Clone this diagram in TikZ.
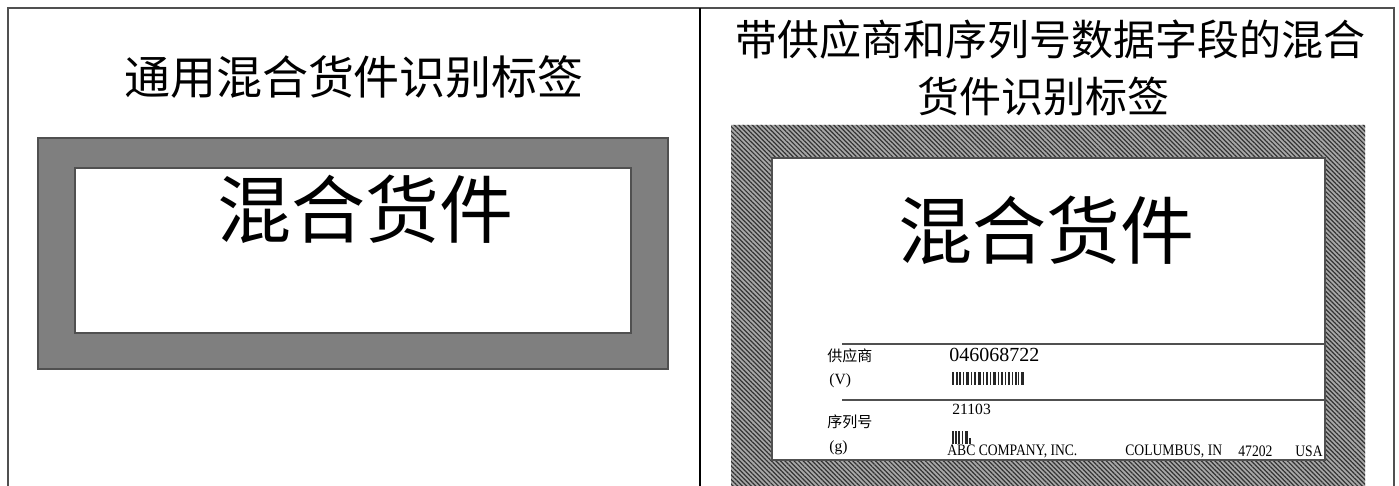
\documentclass[tikz,border=0pt]{standalone}
\usepackage{fontspec}
\usetikzlibrary{patterns.meta}
\newfontfamily\cjk{Noto Sans CJK SC}
\newfontfamily\labfont{Liberation Serif}
\newfontfamily\narrowfont[FakeStretch=0.85]{Liberation Serif}
\definecolor{framegray}{HTML}{7F7F7F}
\definecolor{edgegray}{HTML}{505050}
\definecolor{hatchgray}{HTML}{A8A8A8}

\begin{document}
\begin{tikzpicture}[
	x=0.5pt, y=-0.5pt,
	title/.style={font=\cjk\fontsize{23}{28}\selectfont, inner sep=0pt},
	rtitle/.style={font=\cjk\fontsize{21}{26}\selectfont, inner sep=0pt},
	big/.style={font=\cjk\fontsize{37}{42}\selectfont, inner sep=0pt},
	field/.style={font=\cjk\fontsize{7.5}{9}\selectfont, anchor=west, inner sep=0pt},
	number/.style={font=\labfont\fontsize{10}{12}\selectfont, anchor=west, inner sep=0pt},
	smallnum/.style={font=\labfont\fontsize{7.8}{9}\selectfont, anchor=west, inner sep=0pt},
	address/.style={font=\narrowfont\fontsize{8}{9}\selectfont, anchor=west, inner sep=0pt},
	sepline/.style={draw=edgegray, line width=1pt},
	bar/.style={fill=black!85}
	]
	\useasboundingbox (0,0) rectangle (1399,486);
	
	% Outer frame and divider
	\draw[edgegray, line width=0.8pt] (8,486) -- (8,8) -- (1394,8) -- (1394,486);
	\draw[black, line width=0.8pt] (700,8) -- (700,486);
	
	% Left: generic label
	\node[title] (ltitle) at (354,77) {通用混合货件识别标签};
	\filldraw[fill=framegray, draw=edgegray, line width=0.6pt] (38,138) rectangle (668,369);
	\filldraw[fill=white, draw=edgegray, line width=0.6pt] (75,168) rectangle (631,333);
	\node[big] (lbig) at (365,209) {混合货件};
	
	% Right: label with data fields
	\node[rtitle] (rtitle1) at (1050,40) {带供应商和序列号数据字段的混合};
	\node[rtitle] (rtitle2) at (1043,97) {货件识别标签};
	\fill[hatchgray, even odd rule] (731,125) rectangle (1365,490) (772,158) rectangle (1325,460);
	\fill[pattern={Lines[angle=-45, distance=1.6pt, line width=0.6pt]}, pattern color=black!80, even odd rule]
		(731,125) rectangle (1365,490) (772,158) rectangle (1325,460);
	\draw[edgegray, line width=0.6pt] (772,158) rectangle (1325,460);
	\node[big] (rbig) at (1046,230) {混合货件};
	
	% Field separators
	\draw[sepline] (842,344) -- (1325,344);
	\draw[sepline] (842,400) -- (1325,400);
	
	% Vendor field
	\node[field] (vendor) at (827,356) {供应商};
	\node[smallnum] (vcode) at (829,381) {(V)};
	\node[number] (vnum) at (949,355) {046068722};
	\foreach \x/\w in {952/2,956/1.5,959/2,963/1,966/3,971/1,974/2,978/3,983/1,986/2,990/1,993/3,998/1,1001/2,1005/1,1008/2,1012/1,1015/1.5,1018/1,1021/3}
		\fill[bar] (\x,372) rectangle ++(\w,13);
	
	% Serial field
	\node[smallnum] (snum) at (952,409) {21103};
	\node[field] (serial) at (827,422) {序列号};
	\node[smallnum] (scode) at (829,448) {(g)};
	\foreach \x/\w in {952/1.5,955/1.5,958/2,962/1,965/3}
		\fill[bar] (\x,431) rectangle ++(\w,13);
	\fill[bar] (969,438) rectangle ++(1.5,6);
	
	% Address line
	\node[address] (company) at (947,451) {ABC COMPANY, INC.};
	\node[address] (city) at (1125,451) {COLUMBUS, IN};
	\node[address] (zip) at (1238,451) {47202};
	\node[address] (country) at (1295,451) {USA};
	
\end{tikzpicture}
\end{document}
